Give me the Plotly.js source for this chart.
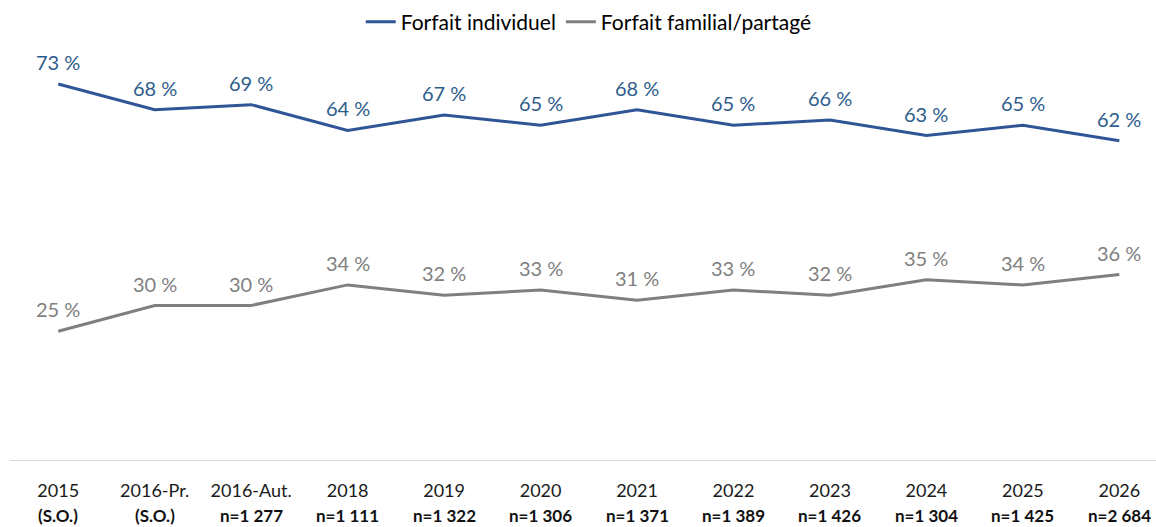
<!DOCTYPE html>
<html><head><meta charset="utf-8">
<script src="https://cdn.plot.ly/plotly-3.0.1.min.js"></script>
<style>body{margin:0;background:#fff}#c{width:1156px;height:527px}</style>
</head><body><div id="c"></div>
<script>
const categories = ["2015","2016-Pr.","2016-Aut.","2018","2019","2020","2021","2022","2023","2024","2025","2026"];
const sampleLabels = ["(S.O.)","(S.O.)","n=1 277","n=1 111","n=1 322","n=1 306","n=1 371","n=1 389","n=1 426","n=1 304","n=1 425","n=2 684"];
const individuel = [73,68,69,64,67,65,68,65,66,63,65,62];
const familial = [25,30,30,34,32,33,31,33,32,35,34,36];
const seriesNames = ["Forfait individuel","Forfait familial/partagé"];

const idx = categories.map((_, i) => i);
const FONT = "Lato, 'Open Sans', sans-serif";
const BLUE = "#2F5597", BLUE_T = "#2E5D8C", GRAY = "#7F7F7F", GRAY_T = "#808080";

const traces = [
  {x: idx, y: individuel, name: seriesNames[0], mode: "lines", line: {color: BLUE, width: 3}, hoverinfo: "skip"},
  {x: idx, y: familial, name: seriesNames[1], mode: "lines", line: {color: GRAY, width: 3}, hoverinfo: "skip"}
];
const annotations = [];
[[individuel, BLUE_T], [familial, GRAY_T]].forEach(([vals, col]) => {
  vals.forEach((v, i) => annotations.push({x: i, y: v, xref: "x", yref: "y", text: v + " %", showarrow: false,
    yshift: 22, font: {family: FONT, size: 20, color: col}}));
});
sampleLabels.forEach((s, i) => annotations.push({x: i, y: 0, xref: "x", yref: "y", text: "<b>" + s + "</b>",
  showarrow: false, yshift: -55, font: {family: FONT, size: 17, color: "#111"}}));

const layout = {
  width: 1156, height: 527,
  margin: {l: 10, r: 0, t: 48, b: 67, autoexpand: false},
  paper_bgcolor: "#fff", plot_bgcolor: "#fff",
  font: {family: FONT, size: 17, color: "#000"},
  showlegend: true,
  legend: {orientation: "h", x: 0.505, xanchor: "center", yref: "container", y: 0.958, yanchor: "middle",
    font: {family: FONT, size: 21, color: "#000"}},
  xaxis: {range: [-0.5, 11.38], tickvals: idx, ticktext: categories, showgrid: false, zeroline: false,
    showline: true, linecolor: "#D9D9D9", linewidth: 1, ticks: "", ticklabelstandoff: 14,
    tickfont: {family: FONT, size: 18, color: "#1a1a1a"}, fixedrange: true},
  yaxis: {range: [0, 80], visible: false, showgrid: false, zeroline: false, fixedrange: true},
  annotations: annotations
};
Plotly.newPlot("c", traces, layout, {displayModeBar: false, staticPlot: true});
</script></body></html>
